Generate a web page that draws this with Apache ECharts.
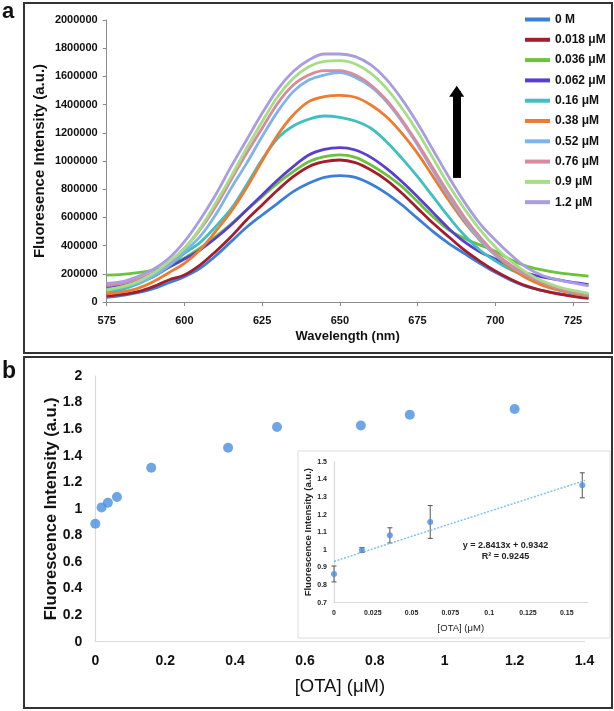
<!DOCTYPE html>
<html><head><meta charset="utf-8">
<script src="https://cdn.jsdelivr.net/npm/echarts@6/dist/echarts.min.js"></script>
<style>html,body{margin:0;padding:0;background:#fff}#c{width:614px;height:711px}</style>
</head><body><div id="c"></div>
<script>
// ---------- Panel a: emission spectra (values in thousands of a.u.) ----------
const wavelengths = [575,580,585,590,595,600,605,610,615,620,625,630,635,640,645,650,655,660,665,670,675,680,685,690,695,700,705,710,715,720,725,730];
const concLabels = ['0 M','0.018 μM','0.036 μM','0.062 μM','0.16 μM','0.38 μM','0.52 μM','0.76 μM','0.9 μM','1.2 μM'];
const spec0 =    [33,47,66,95,137,180,239,326,428,530,617,700,783,842,884,896,884,837,771,688,593,499,416,345,275,210,155,110,82,61,45,32];
const spec018 =  [43,54,73,109,156,192,262,357,463,582,688,794,889,960,995,1007,988,936,865,771,664,558,463,369,290,220,162,114,82,58,40,25];
const spec036 =  [191,196,208,227,262,312,381,463,553,652,747,842,924,995,1031,1043,1026,972,901,818,712,605,511,452,405,360,300,255,228,208,195,184];
const spec062 =  [109,120,144,180,246,305,369,452,546,652,759,865,960,1043,1083,1095,1078,1026,948,853,747,634,522,428,357,305,250,205,178,158,140,123];
const spec16 =   [73,90,128,180,255,345,421,534,660,830,1010,1161,1248,1296,1319,1310,1284,1232,1137,1019,889,747,605,475,369,292,228,180,128,92,62,42];
const spec38 =   [57,71,97,144,208,274,369,500,640,810,1000,1184,1326,1421,1456,1466,1452,1397,1314,1196,1054,889,723,570,440,333,240,170,120,85,62,45];
const spec52 =   [90,104,137,184,262,357,463,617,806,983,1173,1350,1492,1574,1610,1627,1593,1527,1421,1279,1113,931,752,586,444,333,255,190,140,98,70,50];
const spec76 =   [116,132,161,208,279,381,511,676,865,1054,1232,1409,1539,1610,1641,1641,1610,1539,1433,1291,1125,948,771,605,463,345,262,195,142,100,72,52];
const spec90 =   [85,109,144,203,286,381,522,700,889,1090,1279,1456,1586,1669,1707,1712,1688,1622,1515,1374,1208,1019,830,664,515,390,290,210,150,110,82,62];
const spec120 =  [132,144,180,232,310,428,582,759,960,1149,1338,1508,1634,1716,1759,1759,1740,1681,1579,1437,1267,1078,889,712,558,440,335,245,190,158,135,115];
const spectra = [spec0,spec018,spec036,spec062,spec16,spec38,spec52,spec76,spec90,spec120];
const arrowFrom = [687.6, 880000];
const arrowTo = [687.6, 1495000];

// ---------- Panel b: titration ----------
const otaConc = [0, 0.018, 0.036, 0.062, 0.16, 0.38, 0.52, 0.76, 0.9, 1.2];
const fluoRatio = [0.888, 1.011, 1.046, 1.089, 1.31, 1.46, 1.616, 1.628, 1.708, 1.751];

// ---------- Inset: linear range ----------
const insetConc = [0, 0.018, 0.036, 0.062, 0.16];
const insetFluo = [0.863, 0.999, 1.082, 1.158, 1.366];
const insetErr = [0.045, 0.014, 0.043, 0.093, 0.071];
const trendX = [0, 0.1617];
const trendY = [0.9342, 1.3936];
const eqText = 'y = 2.8413x + 0.9342';
const r2Text = 'R² = 0.9245';

// ---------- styles ----------
const lineColors = ['#3a7fd8','#a31d2c','#6cc23a','#5a3fcf','#40bfc0','#ee7b2f','#7db4ec','#d98a9c','#a4df86','#a99ce2'];
const FONT = '"Liberation Sans", Arial, sans-serif';
const ptColor = '#4a8fe0';

const chart = echarts.init(document.getElementById('c'), null, {renderer:'canvas'});

const series = [];
spectra.forEach((s, i) => {
  const ser = {
    name: concLabels[i], type: 'line', xAxisIndex: 0, yAxisIndex: 0,
    data: wavelengths.map((w, j) => [w, s[j] * 1000]),
    showSymbol: false, symbol: 'none', smooth: 0.35,
    lineStyle: {width: 2.8, color: lineColors[i]}, itemStyle: {color: lineColors[i]},
    silent: true, animation: false
  };
  if (i === spectra.length - 1) {
    ser.markLine = {
      silent: true, symbol: ['none', 'triangle'], symbolSize: [15, 11],
      label: {show: false},
      lineStyle: {color: '#000', width: 8, type: 'solid'},
      itemStyle: {color: '#000'},
      data: [[{coord: arrowFrom}, {coord: arrowTo}]]
    };
  }
  series.push(ser);
});

series.push({
  type: 'scatter', xAxisIndex: 1, yAxisIndex: 1,
  data: otaConc.map((x, i) => [x, fluoRatio[i]]),
  symbolSize: 10, itemStyle: {color: ptColor}, silent: true, animation: false
});

series.push({
  type: 'line', xAxisIndex: 2, yAxisIndex: 2,
  data: trendX.map((x, i) => [x, trendY[i]]),
  showSymbol: false, symbol: 'none',
  lineStyle: {color: '#7ec3ee', width: 1.5, type: [2, 1.5]}, silent: true, animation: false
});

series.push({
  type: 'custom', xAxisIndex: 2, yAxisIndex: 2,
  data: insetConc.map((x, i) => [x, insetFluo[i] - insetErr[i], insetFluo[i] + insetErr[i]]),
  encode: {x: 0, y: [1, 2]},
  renderItem: function (params, api) {
    const x = api.value(0);
    const lo = api.coord([x, api.value(1)]);
    const hi = api.coord([x, api.value(2)]);
    const w = 2.5;
    const st = {stroke: '#555', lineWidth: 1};
    return {type: 'group', children: [
      {type: 'line', shape: {x1: lo[0], y1: lo[1], x2: hi[0], y2: hi[1]}, style: st},
      {type: 'line', shape: {x1: lo[0]-w, y1: lo[1], x2: lo[0]+w, y2: lo[1]}, style: st},
      {type: 'line', shape: {x1: hi[0]-w, y1: hi[1], x2: hi[0]+w, y2: hi[1]}, style: st}
    ]};
  },
  silent: true, animation: false, z: 3
});

series.push({
  type: 'scatter', xAxisIndex: 2, yAxisIndex: 2,
  data: insetConc.map((x, i) => [x, insetFluo[i]]),
  symbolSize: 6, itemStyle: {color: ptColor}, silent: true, animation: false, z: 4
});

const grayAxis = {lineStyle: {color: '#8c8c8c', width: 1}};
const lightAxis = {lineStyle: {color: '#d9d9d9', width: 1.2}};

chart.setOption({
  animation: false,
  backgroundColor: '#fff',
  textStyle: {fontFamily: FONT},
  legend: {
    data: concLabels, orient: 'vertical', left: 525, top: 12.5, padding: 0,
    itemWidth: 25, itemHeight: 4, itemGap: 6.3, icon: 'rect',
    textStyle: {fontFamily: FONT, fontSize: 12, fontWeight: 'bold', color: '#111', lineHeight: 14},
    selectedMode: false
  },
  grid: [
    {left: 106.7, right: 25.5, top: 20, bottom: 409},
    {left: 95.3, right: 29.5, top: 376, bottom: 69.3},
    {left: 334, right: 26.3, top: 461.7, bottom: 108.3}
  ],
  xAxis: [
    {gridIndex: 0, type: 'value', min: 575, max: 730, interval: 25,
      axisLine: grayAxis, axisTick: {show: true, length: 4, lineStyle: {color: '#8c8c8c'}},
      splitLine: {show: false},
      axisLabel: {fontFamily: FONT, fontSize: 11, fontWeight: 'bold', color: '#111', margin: 13, showMaxLabel: false},
      name: 'Wavelength (nm)', nameLocation: 'middle', nameGap: 28, nameMoveOverlap: false,
      nameTextStyle: {fontFamily: FONT, fontSize: 13, fontWeight: 'bold', color: '#111'}},
    {gridIndex: 1, type: 'value', min: 0, max: 1.4, interval: 0.2,
      axisLine: lightAxis, axisTick: {show: false}, splitLine: {show: false},
      axisLabel: {fontFamily: FONT, fontSize: 14, fontWeight: 'bold', color: '#111', margin: 12},
      name: '[OTA] (μM)', nameLocation: 'middle', nameGap: 36, nameMoveOverlap: false,
      nameTextStyle: {fontFamily: FONT, fontSize: 18.5, color: '#111'}},
    {gridIndex: 2, type: 'value', min: 0, max: 0.1635, interval: 0.025,
      axisLine: lightAxis, axisTick: {show: false}, splitLine: {show: false},
      axisLabel: {fontFamily: FONT, fontSize: 7, fontWeight: 'bold', color: '#222', margin: 7, showMaxLabel: false},
      name: '[OTA] (μM)', nameLocation: 'middle', nameGap: 21, nameMoveOverlap: false,
      nameTextStyle: {fontFamily: FONT, fontSize: 9.5, color: '#222'}}
  ],
  yAxis: [
    {gridIndex: 0, type: 'value', min: 0, max: 2000000, interval: 200000,
      axisLine: Object.assign({show: true}, grayAxis), axisTick: {show: true, length: 4, lineStyle: {color: '#8c8c8c'}},
      splitLine: {show: false},
      axisLabel: {fontFamily: FONT, fontSize: 11, fontWeight: 'bold', color: '#111', margin: 9, formatter: v => String(v)},
      name: 'Fluoresence Intensity (a.u.)', nameLocation: 'middle', nameGap: 59, nameRotate: 90, nameMoveOverlap: false,
      nameTextStyle: {fontFamily: FONT, fontSize: 15, fontWeight: 'bold', color: '#111'}},
    {gridIndex: 1, type: 'value', min: 0, max: 2, interval: 0.2,
      axisLine: Object.assign({show: true}, lightAxis), axisTick: {show: false}, splitLine: {show: false},
      axisLabel: {fontFamily: FONT, fontSize: 14, fontWeight: 'bold', color: '#111', margin: 13},
      name: 'Fluorescence Intensity (a.u.)', nameLocation: 'middle', nameGap: 35, nameRotate: 90, nameMoveOverlap: false,
      nameTextStyle: {fontFamily: FONT, fontSize: 16.5, fontWeight: 'bold', color: '#111'}},
    {gridIndex: 2, type: 'value', min: 0.7, max: 1.5, interval: 0.1,
      axisLine: Object.assign({show: true}, lightAxis), axisTick: {show: false}, splitLine: {show: false},
      axisLabel: {fontFamily: FONT, fontSize: 7, fontWeight: 'bold', color: '#222', margin: 7},
      name: 'Fluorescence Intensity (a.u.)', nameLocation: 'middle', nameGap: 21, nameRotate: 90, nameMoveOverlap: false,
      nameTextStyle: {fontFamily: FONT, fontSize: 9.5, fontWeight: 'bold', color: '#222'}}
  ],
  graphic: [
    {type: 'rect', shape: {x: 24, y: 3, width: 588, height: 350}, style: {fill: null, stroke: '#333', lineWidth: 2}, z: 10, silent: true},
    {type: 'rect', shape: {x: 24, y: 357, width: 588, height: 351}, style: {fill: null, stroke: '#333', lineWidth: 2}, z: 10, silent: true},
    {type: 'rect', shape: {x: 298, y: 451, width: 312, height: 187}, style: {fill: null, stroke: '#d9dde3', lineWidth: 1}, z: 1, silent: true},
    {type: 'text', x: 2, y: 1, style: {text: 'a', font: 'bold 22px ' + FONT, fill: '#111'}, z: 10},
    {type: 'text', x: 2, y: 360, style: {text: 'b', font: 'bold 23px ' + FONT, fill: '#111'}, z: 10},
    {type: 'text', x: 505.5, y: 541.5, style: {text: eqText, font: 'bold 9px ' + FONT, fill: '#222', align: 'center'}, z: 10},
    {type: 'text', x: 505.5, y: 552.5, style: {text: r2Text, font: 'bold 9px ' + FONT, fill: '#222', align: 'center'}, z: 10}
  ],
  series: series
});
</script></body></html>
